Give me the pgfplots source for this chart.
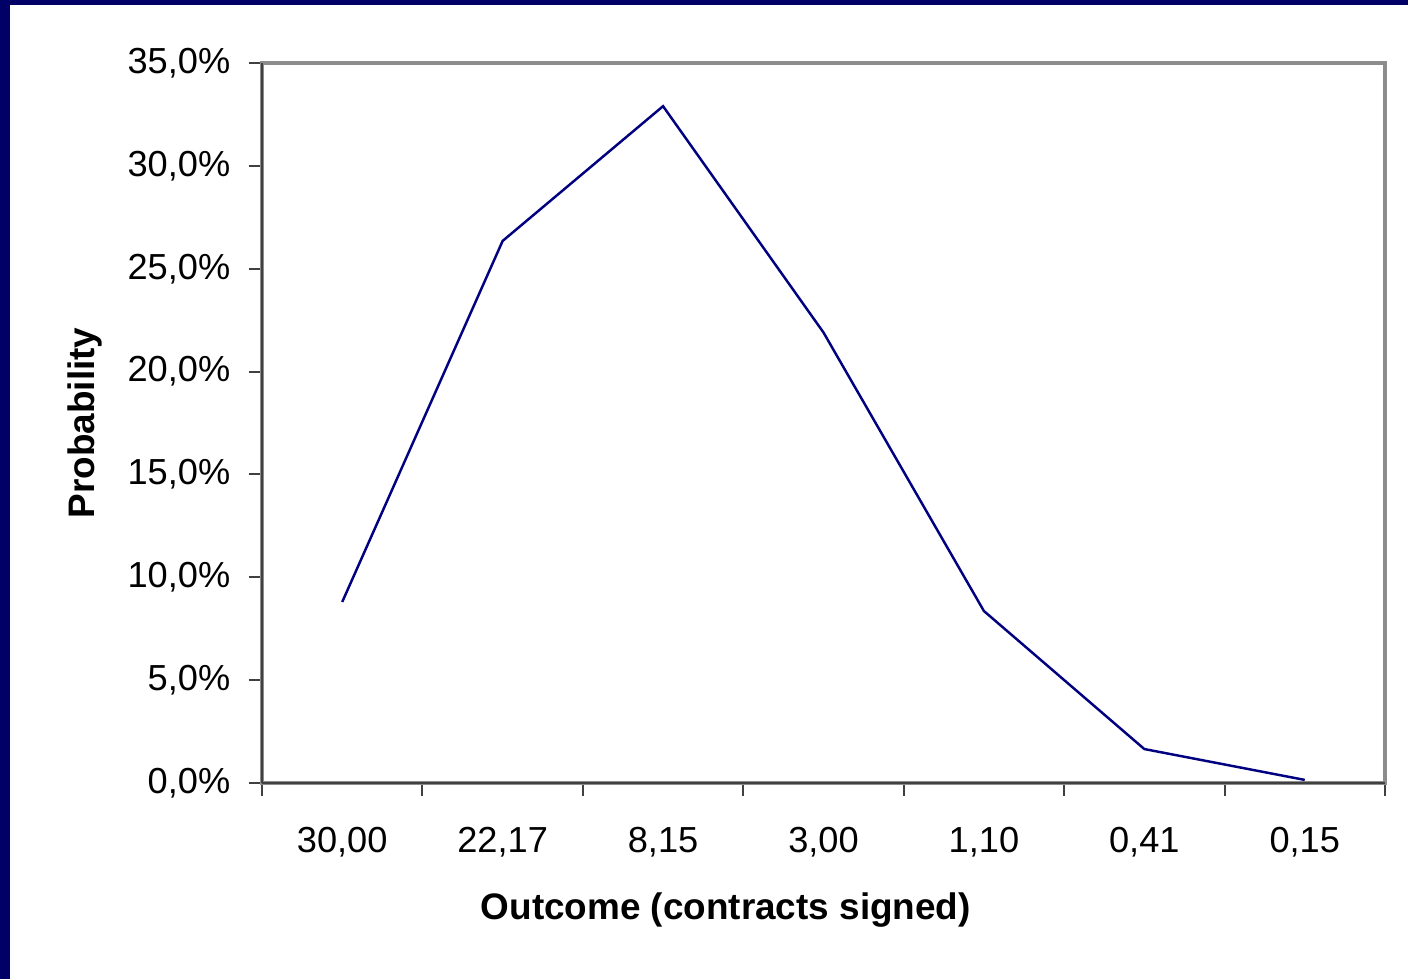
\documentclass[border=0pt]{standalone}
\usepackage{fontspec}
\setmainfont{Liberation Sans}
\usepackage{pgfplots}
\pgfplotsset{compat=1.18}
\definecolor{navybg}{HTML}{000066}
\definecolor{lineblue}{HTML}{000080}
\begin{document}
\fontsize{10.3}{12}\selectfont
\begin{tikzpicture}
\fill[navybg] (-26.2mm,-19.6mm) rectangle (114.6mm,78.3mm);
\fill[white] (-25.2mm,-19.6mm) rectangle (114.6mm,77.8mm);
\begin{axis}[
  at={(0,0)}, anchor=south west,
  scale only axis, width=112.3mm, height=72mm,
  xmin=-0.5, xmax=6.5, ymin=0, ymax=35,
  xtick={0,...,6},
  xticklabels={{30,00},{22,17},{8,15},{3,00},{1,10},{0,41},{0,15}},
  minor xtick={-0.5,0.5,...,6.5},
  ytick={0,5,...,35},
  yticklabels={{0,0\%},{5,0\%},{10,0\%},{15,0\%},{20,0\%},{25,0\%},{30,0\%},{35,0\%}},
  xtick pos=bottom, ytick pos=left,
  tick align=outside,
  major tick length=1.3mm, minor tick length=1.3mm,
  every tick/.style={black!75, line width=0.55pt},
  major x tick style={draw=none},
  minor x tick style={draw=black!75, line width=0.55pt},
  axis line style={draw=black!45, line width=0.9pt},
  /pgf/number format/assume math mode=true,
  tick label style={font=\fontsize{10.3}{12}\selectfont},
  xticklabel style={yshift=-1.8mm},
  yticklabel style={xshift=-0.6mm},
  xlabel={Outcome (contracts signed)},
  ylabel={Probability},
  label style={font=\fontsize{10.5}{12}\selectfont\bfseries},
  xlabel style={at={(axis description cs:0.413,-0.176)}, anchor=center},
  ylabel style={at={(axis description cs:-0.158,0.5)}, anchor=center, rotate=0},
  clip=false,
]
\addplot[lineblue, line width=0.7pt] coordinates {
  (0,8.8) (1,26.35) (2,32.9) (3,21.9) (4,8.36) (5,1.65) (6,0.15)
};
\draw[black!75, line width=0.6pt] (rel axis cs:0,0) -- (rel axis cs:0,1);
\draw[black!75, line width=0.6pt] (rel axis cs:0,0) -- (rel axis cs:1,0);
\end{axis}
\end{tikzpicture}
\end{document}
